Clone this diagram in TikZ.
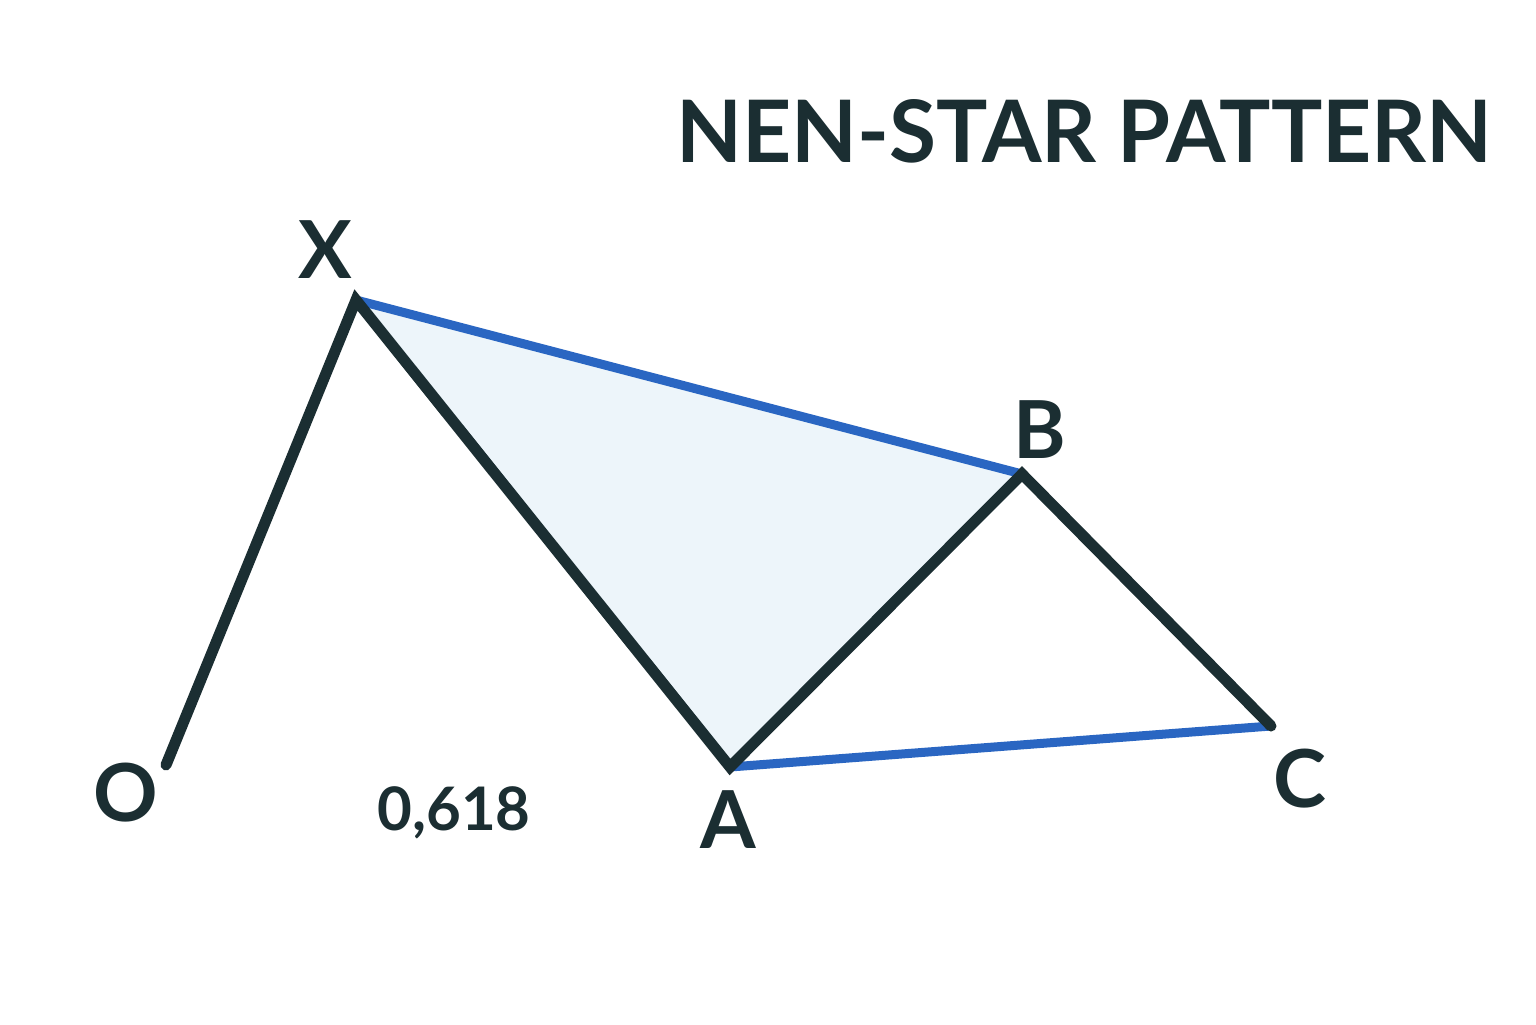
\documentclass[tikz,border=0pt]{standalone}
\usepackage{fontspec}
\setmainfont{Lato}
\definecolor{ink}{HTML}{1B2E32}
\definecolor{pblue}{HTML}{2A66C2}
\definecolor{pfill}{HTML}{EDF5FA}
\begin{document}
\begin{tikzpicture}[x=0.5pt,y=-0.5pt,
  leg/.style={draw=ink,line width=5.5pt,line cap=round,line join=miter},
  bline/.style={draw=pblue,line width=4.5pt,line cap=round},
  lab/.style={text=ink,font=\fontsize{40}{40}\selectfont\bfseries,inner sep=0pt},
  title/.style={text=ink,inner sep=0pt}]
\useasboundingbox (0,0) rectangle (1536,1024);
\fill[white] (0,0) rectangle (1536,1024);
\coordinate (O) at (166,765);
\coordinate (X) at (356,300);
\coordinate (A) at (730,767);
\coordinate (B) at (1022,474);
\coordinate (C) at (1271,726);
\fill[pfill] (X) -- (B) -- (A) -- cycle;
\draw[bline] (X) -- (B);
\draw[bline] (A) -- (C);
\draw[leg] (O) -- (X) -- (A) -- (B) -- (C);
\node[lab] (lX) at (325,250) {X};
\node[lab] (lB) at (1040,430) {B};
\node[lab] (lO) at (126,793) {O};
\node[lab] (lA) at (728,820) {A};
\node[lab] (lC) at (1300,779) {C};
\node[text=ink,inner sep=0pt,font=\fontsize{30}{30}\selectfont\bfseries] (r) at (454,813) {0,618};
\node[title,anchor=west] (t) at (676,131) {\resizebox{408pt}{31.5pt}{\bfseries NEN-STAR PATTERN}};
\end{tikzpicture}
\end{document}
